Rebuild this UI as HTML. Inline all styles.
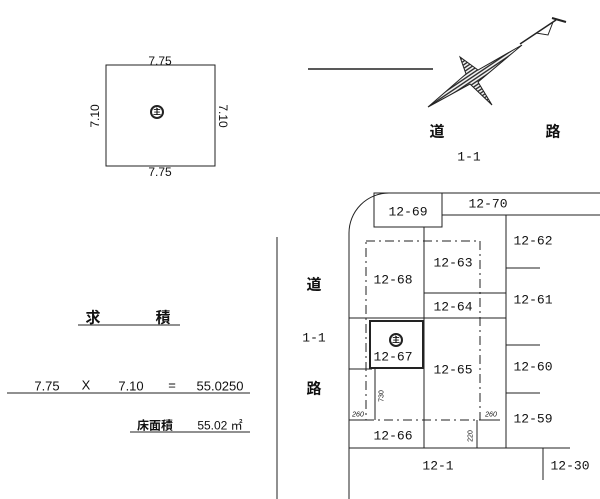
<!DOCTYPE html>
<html><head><meta charset="utf-8"><style>
html,body{margin:0;padding:0;background:#fff;}
body{width:600px;height:499px;overflow:hidden;position:relative;font-family:"Liberation Mono","Noto Sans CJK JP",monospace;color:#111;}
.t{position:absolute;font-size:13px;white-space:nowrap;transform:translate(-50%,-50%);}
.k{position:absolute;font-family:"Liberation Sans","Noto Sans CJK JP",sans-serif;font-weight:bold;font-size:15px;transform:translate(-50%,-50%);}
.s{position:absolute;font-family:"Liberation Sans",sans-serif;font-size:11px;transform:translate(-50%,-50%);white-space:nowrap;}
</style></head><body>
<svg width="600" height="499" style="position:absolute;left:0;top:0" fill="none" stroke="#222" stroke-width="1">
<defs><pattern id="h" width="3" height="3" patternUnits="userSpaceOnUse" patternTransform="rotate(-34)"><rect width="3" height="3" fill="#fff" stroke="none"/><line x1="0" y1="1" x2="3" y2="1" stroke="#222" stroke-width="1.4"/></pattern></defs>
<rect x="106" y="65" width="109" height="101"/>
<circle cx="157" cy="112" r="6" stroke-width="2"/>
<line x1="308" y1="69" x2="433" y2="69" stroke-width="1.5"/>
<!-- compass -->
<g stroke="#222" stroke-width="1">
<polygon points="522,45 478,82 492,105 470,84 428,107 466,74 460,57 478,70" fill="url(#h)"/>
<line x1="520" y1="44" x2="556" y2="20" stroke-width="1.5"/>
<polyline points="536,33 548,35 553,22"/>
<line x1="552" y1="18" x2="566" y2="22" stroke-width="2"/>
</g>
<line x1="277" y1="237" x2="277" y2="499"/>
<!-- map -->
<path d="M349 499 V233 A40 40 0 0 1 389 193 H600"/>
<rect x="374" y="193" width="68" height="34"/>
<line x1="442" y1="215" x2="600" y2="215"/>
<line x1="424" y1="227" x2="424" y2="448"/>
<line x1="506" y1="215" x2="506" y2="448"/>
<line x1="506" y1="268" x2="540" y2="268"/>
<line x1="506" y1="345" x2="540" y2="345"/>
<line x1="506" y1="393" x2="540" y2="393"/>
<line x1="424" y1="293" x2="506" y2="293"/>
<line x1="349" y1="318" x2="506" y2="318"/>
<line x1="349" y1="369" x2="372" y2="369"/>
<rect x="370" y="321" width="53" height="47" stroke-width="2"/>
<rect x="366" y="241" width="114" height="179" stroke-dasharray="9,4,2,4"/>
<line x1="349" y1="448" x2="570" y2="448"/>
<line x1="543" y1="448" x2="543" y2="480"/>
<line x1="375" y1="368" x2="375" y2="420"/>
<line x1="477" y1="420" x2="477" y2="448"/>
<line x1="349" y1="420" x2="366" y2="420"/>
<line x1="480" y1="420" x2="500" y2="420"/>
<circle cx="396" cy="340" r="6" stroke-width="2"/>
<line x1="78" y1="325" x2="180" y2="325"/>
<line x1="7" y1="393" x2="250" y2="393"/>
<line x1="130" y1="432" x2="250" y2="432"/>
</svg>
<div class="s" style="left:160px;top:61px;font-size:12px">7.75</div>
<div class="s" style="left:160px;top:172px;font-size:12px">7.75</div>
<div class="s" style="left:95px;top:116px;font-size:12px;transform:translate(-50%,-50%) rotate(-90deg)">7.10</div>
<div class="s" style="left:223px;top:116px;font-size:12px;transform:translate(-50%,-50%) rotate(90deg)">7.10</div>
<div class="s" style="left:157px;top:112px;font-size:8px;font-weight:bold;font-family:'Noto Sans CJK JP',sans-serif">主</div>
<div class="s" style="left:396px;top:340px;font-size:8px;font-weight:bold;font-family:'Noto Sans CJK JP',sans-serif">主</div>
<div class="k" style="left:437px;top:131px">道</div>
<div class="k" style="left:553px;top:131px">路</div>
<div class="t" style="left:469px;top:157px">1-1</div>
<div class="k" style="left:314px;top:284px">道</div>
<div class="t" style="left:314px;top:338px">1-1</div>
<div class="k" style="left:314px;top:388px">路</div>
<div class="t" style="left:408px;top:212px">12-69</div>
<div class="t" style="left:488px;top:204px">12-70</div>
<div class="t" style="left:533px;top:241px">12-62</div>
<div class="t" style="left:453px;top:263px">12-63</div>
<div class="t" style="left:393px;top:280px">12-68</div>
<div class="t" style="left:453px;top:307px">12-64</div>
<div class="t" style="left:533px;top:300px">12-61</div>
<div class="t" style="left:393px;top:357px">12-67</div>
<div class="t" style="left:453px;top:370px">12-65</div>
<div class="t" style="left:533px;top:367px">12-60</div>
<div class="t" style="left:533px;top:419px">12-59</div>
<div class="t" style="left:393px;top:436px">12-66</div>
<div class="t" style="left:438px;top:466px">12-1</div>
<div class="t" style="left:570px;top:466px">12-30</div>
<div class="s" style="left:358px;top:415px;font-size:7px;font-style:italic">260</div>
<div class="s" style="left:491px;top:415px;font-size:7px;font-style:italic">260</div>
<div class="s" style="left:382px;top:396px;font-size:7px;transform:translate(-50%,-50%) rotate(-90deg)">730</div>
<div class="s" style="left:471px;top:436px;font-size:7px;transform:translate(-50%,-50%) rotate(-90deg)">220</div>
<div class="k" style="left:93px;top:317px">求</div>
<div class="k" style="left:163px;top:317px">積</div>
<div class="s" style="left:47px;top:386px;font-size:13px">7.75</div>
<div class="s" style="left:86px;top:385px;font-size:13px">X</div>
<div class="s" style="left:131px;top:386px;font-size:13px">7.10</div>
<div class="s" style="left:172px;top:385px;font-size:13px">=</div>
<div class="s" style="left:220px;top:386px;font-size:13px">55.0250</div>
<div class="s" style="left:155px;top:425px;font-size:12px;font-weight:bold;font-family:'Noto Sans CJK JP',sans-serif">床面積</div>
<div class="s" style="left:220px;top:425px;font-size:12px;font-family:'Liberation Sans','Noto Sans CJK JP',sans-serif">55.02 ㎡</div>
</body></html>
